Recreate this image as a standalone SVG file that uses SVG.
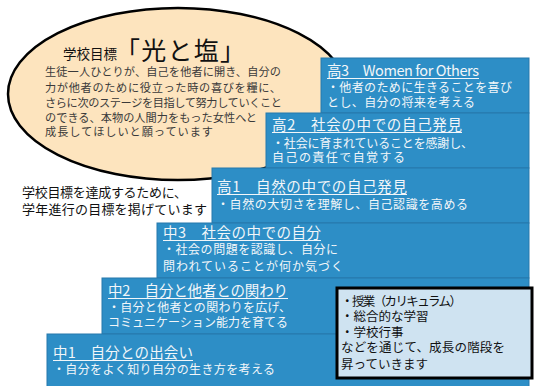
<svg xmlns="http://www.w3.org/2000/svg" width="537" height="386" viewBox="0 0 537 386">
<defs>
<style>
text{font-family:"Noto Sans CJK JP","Noto Sans CJK SC",sans-serif;}
.step{fill:#2D8EC6;stroke:#2779AC;stroke-width:1;}
.tt{fill:#F2F6F9;font-size:14.5px;}
.tb{fill:#F2F6F9;font-size:12px;}
.ul{stroke:#F2F6F9;stroke-width:1;}
.body{fill:#3A3A3A;font-size:11.2px;}
.lead{fill:#111;font-size:13px;}
.note{fill:#111;font-size:12.5px;}
</style>
</defs>
<rect width="537" height="386" fill="#ffffff"/>
<g id="goal">
<ellipse cx="178" cy="94" rx="170" ry="86" fill="#FDE4BE" stroke="#000" stroke-width="2.5"/>
<text x="63" y="59" font-size="13.5" fill="#111">学校目標</text>
<text x="115" y="60" font-size="25" fill="#111" textLength="130" lengthAdjust="spacing">「光と塩」</text>
<text class="body" x="45" y="76" textLength="236" lengthAdjust="spacing">生徒一人ひとりが、自己を他者に開き、自分の</text>
<text class="body" x="45" y="92" textLength="236" lengthAdjust="spacing">力が他者のために役立った時の喜びを糧に、</text>
<text class="body" x="45" y="107" textLength="237" lengthAdjust="spacing">さらに次のステージを目指して努力していくこと</text>
<text class="body" x="45" y="122" textLength="212" lengthAdjust="spacing">のできる、本物の人間力をもった女性へと</text>
<text class="body" x="45" y="136" textLength="168" lengthAdjust="spacing">成長してほしいと願っています</text>
</g>
<g id="lead">
<text class="lead" x="22" y="197" textLength="165" lengthAdjust="spacing">学校目標を達成するために、</text>
<text class="lead" x="22" y="214" textLength="185" lengthAdjust="spacing">学年進行の目標を掲げています</text>
</g>
<g id="k3">
<rect class="step" x="321" y="58" width="208" height="55"/>
<text class="tt" x="327" y="76" textLength="152" lengthAdjust="spacing">高3　Women for Others</text>
<line class="ul" x1="327" y1="78.5" x2="479" y2="78.5"/>
<text class="tb" x="327" y="92" textLength="185" lengthAdjust="spacing">・他者のために生きることを喜び</text>
<text class="tb" x="327" y="107" textLength="148" lengthAdjust="spacing">とし、自分の将来を考える</text>
</g>
<g id="k2">
<rect class="step" x="266" y="113" width="263" height="55"/>
<text class="tt" x="272" y="130" textLength="190" lengthAdjust="spacing">高2　社会の中での自己発見</text>
<line class="ul" x1="272" y1="132.5" x2="462" y2="132.5"/>
<text class="tb" x="272" y="148" textLength="201" lengthAdjust="spacing">・社会に育まれていることを感謝し、</text>
<text class="tb" x="272" y="162" textLength="133" lengthAdjust="spacing">自己の責任で自覚する</text>
</g>
<g id="k1">
<rect class="step" x="212" y="168" width="317" height="55"/>
<text class="tt" x="217" y="192" textLength="190" lengthAdjust="spacing">高1　自然の中での自己発見</text>
<line class="ul" x1="217" y1="194.5" x2="407" y2="194.5"/>
<text class="tb" x="217" y="209" textLength="251" lengthAdjust="spacing">・自然の大切さを理解し、自己認識を高める</text>
</g>
<g id="c3">
<rect class="step" x="157" y="223" width="372" height="55"/>
<text class="tt" x="163" y="238" textLength="158" lengthAdjust="spacing">中3　社会の中での自分</text>
<line class="ul" x1="163" y1="240.5" x2="321" y2="240.5"/>
<text class="tb" x="163" y="254" textLength="175" lengthAdjust="spacing">・社会の問題を認識し、自分に</text>
<text class="tb" x="163" y="271" textLength="180" lengthAdjust="spacing">問われていることが何か気づく</text>
</g>
<g id="c2">
<rect class="step" x="102" y="278" width="427" height="56"/>
<text class="tt" x="108" y="296" textLength="180" lengthAdjust="spacing">中2　自分と他者との関わり</text>
<line class="ul" x1="108" y1="298.5" x2="288" y2="298.5"/>
<text class="tb" x="108" y="312" textLength="183" lengthAdjust="spacing">・自分と他者との関わりを広げ、</text>
<text class="tb" x="108" y="327" textLength="180" lengthAdjust="spacing">コミュニケーション能力を育てる</text>
</g>
<g id="c1">
<rect class="step" x="47" y="334" width="482" height="56"/>
<text class="tt" x="53" y="358" textLength="140" lengthAdjust="spacing">中1　自分との出会い</text>
<line class="ul" x1="53" y1="360.5" x2="193" y2="360.5"/>
<text class="tb" x="53" y="374" textLength="222" lengthAdjust="spacing">・自分をよく知り自分の生き方を考える</text>
</g>
<g id="note">
<rect x="337" y="288" width="195" height="90" fill="#CFE3F1" stroke="#000" stroke-width="3"/>
<text class="note" x="341" y="306" textLength="121" lengthAdjust="spacing">・授業（カリキュラム）</text>
<text class="note" x="341" y="321">・総合的な学習</text>
<text class="note" x="341" y="337">・学校行事</text>
<text class="note" x="341" y="352" textLength="164" lengthAdjust="spacing">などを通じて、成長の階段を</text>
<text class="note" x="341" y="369">昇っていきます</text>
</g>
<g id="connectors"></g>
</svg>
